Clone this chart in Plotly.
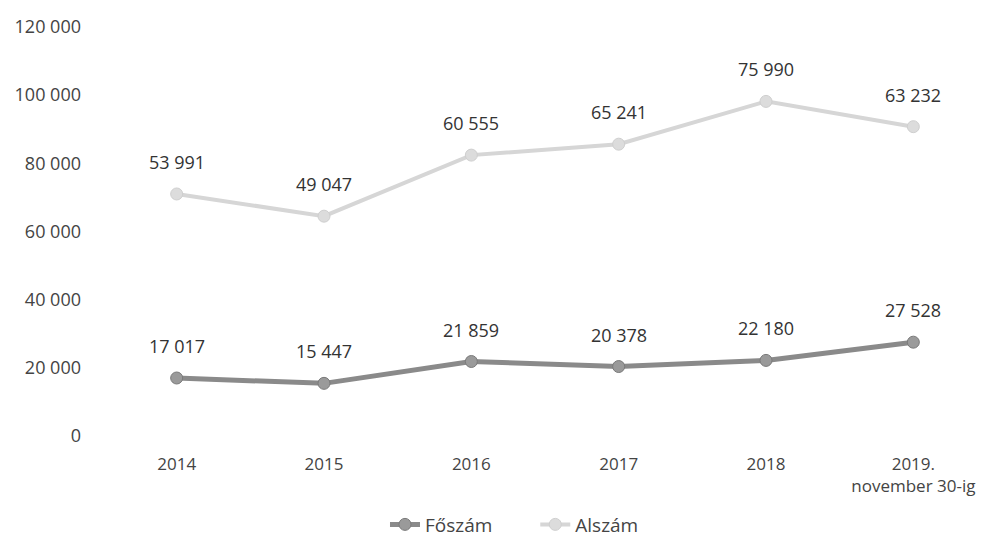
import plotly.graph_objects as go

years = ["2014", "2015", "2016", "2017", "2018", "2019.<br>november 30-ig"]
foszam = [17017, 15447, 21859, 20378, 22180, 27528]
alszam = [53991, 49047, 60555, 65241, 75990, 63232]


def fmt(v):
    return f"{v:,}".replace(",", " ")


fig = go.Figure()
fig.add_trace(go.Scatter(
    x=years, y=foszam, name="Főszám", stackgroup="s", fill="none",
    mode="lines+markers", legend="legend",
    line=dict(color="#8a8a8a", width=5),
    marker=dict(size=12, color="#9a9a9a", line=dict(color="#7a7a7a", width=1)),
))
fig.add_trace(go.Scatter(
    x=years, y=alszam, name="Alszám", stackgroup="s", fill="none",
    mode="lines+markers", legend="legend2",
    line=dict(color="#d6d6d6", width=4),
    marker=dict(size=12, color="#dcdcdc", line=dict(color="#cfcfcf", width=1)),
))

# data labels sit a little higher above the (stacked) points than plotly's text does
# (x given as category index, "2014" would be read as a number)
for i in range(len(years)):
    fig.add_annotation(x=i, y=foszam[i], text=fmt(foszam[i]), showarrow=False,
                       yshift=32, font=dict(size=18, color="#333333"))
    fig.add_annotation(x=i, y=foszam[i] + alszam[i], text=fmt(alszam[i]), showarrow=False,
                       yshift=32, font=dict(size=18, color="#333333"))

leg = dict(orientation="h", y=-0.17, yanchor="top", xanchor="left",
           font=dict(size=19, color="#444444"), bgcolor="rgba(0,0,0,0)")

# page body has an 8px margin, so the figure is a bit smaller than the window
fig.update_layout(
    width=981, height=543,
    margin=dict(l=95, r=2, t=19, b=115, autoexpand=False),
    paper_bgcolor="white", plot_bgcolor="white",
    font=dict(family="Open Sans, Liberation Sans, sans-serif", size=17, color="#444444"),
    separators=", ",
    showlegend=True,
    legend=dict(leg, x=0.319),
    legend2=dict(leg, x=0.489),
)
fig.update_xaxes(type="category", range=[-0.5, 5.5], showgrid=False, showline=False,
                 zeroline=False, ticks="", ticklabelstandoff=16,
                 tickfont=dict(size=17, color="#444444"))
fig.update_yaxes(range=[0, 120000], dtick=20000, tickformat=",d", showgrid=False,
                 showline=False, zeroline=False, ticks="", ticklabelstandoff=21,
                 tickfont=dict(size=18, color="#444444"))

fig.write_html("out.html")
